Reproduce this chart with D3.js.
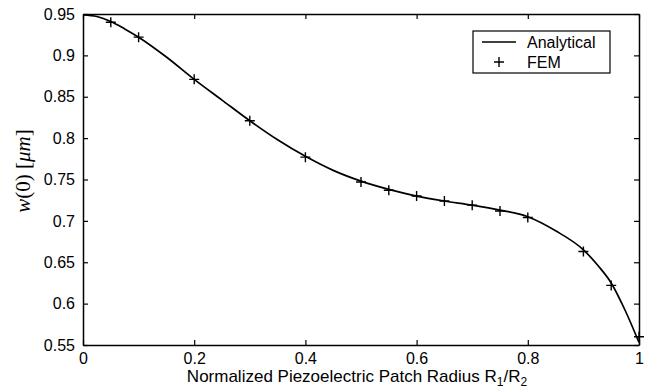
<!DOCTYPE html>
<html>
<head>
<meta charset="utf-8">
<script src="https://cdn.jsdelivr.net/npm/d3@7"></script>
<style>
  body { margin: 0; background: #fff; }
  text { font-family: "Liberation Sans", Arial, sans-serif; fill: #000; }
</style>
</head>
<body>
<div id="container"></div>
<script>
const width = 650;
const height = 390;

// plot box
const padLeft = 83, padRight = 639, padTop = 14, padBottom = 345;

// analytical curve
const anaX = [0, 0.025, 0.05, 0.075, 0.1, 0.15, 0.2, 0.25, 0.3, 0.35, 0.4, 0.45, 0.5, 0.55, 0.6, 0.65, 0.7, 0.75, 0.8, 0.85, 0.9, 0.925, 0.95, 0.975, 1.0];
const anaY = [0.949, 0.947, 0.941, 0.932, 0.922, 0.898, 0.871, 0.846, 0.821, 0.798, 0.778, 0.761, 0.748, 0.738, 0.730, 0.724, 0.719, 0.713, 0.705, 0.688, 0.665, 0.647, 0.625, 0.592, 0.553];

// FEM points
const femX = [0.05, 0.1, 0.2, 0.3, 0.4, 0.5, 0.55, 0.6, 0.65, 0.7, 0.75, 0.8, 0.9, 0.95, 1.0];
const femY = [0.940, 0.922, 0.871, 0.821, 0.777, 0.747, 0.737, 0.730, 0.724, 0.719, 0.712, 0.704, 0.663, 0.622, 0.560];

const xTicks = [0, 0.2, 0.4, 0.6, 0.8, 1];
const yTicks = [0.55, 0.6, 0.65, 0.7, 0.75, 0.8, 0.85, 0.9, 0.95];

let svg = d3.select('#container')
  .append('svg')
  .attr('width', width)
  .attr('height', height);

let x = d3.scaleLinear().domain([0, 1]).range([padLeft, padRight]);
let y = d3.scaleLinear().domain([0.55, 0.95]).range([padBottom, padTop]);

function fmt(d){
  return String(+d.toFixed(2));
}

// axes, ticks pointing inwards like matlab
svg.append('g')
  .attr('transform', 'translate(0,' + padBottom + ')')
  .call(d3.axisBottom(x).tickValues(xTicks).tickSizeInner(-5).tickSizeOuter(0).tickPadding(8).tickFormat(fmt))
  .call(g => g.selectAll('text').attr('font-size', 16).attr('font-family', '"Liberation Sans", Arial, sans-serif'));

svg.append('g')
  .attr('transform', 'translate(0,' + padTop + ')')
  .call(d3.axisTop(x).tickValues(xTicks).tickSizeInner(-5).tickSizeOuter(0).tickFormat(''));

svg.append('g')
  .attr('transform', 'translate(' + padLeft + ',0)')
  .call(d3.axisLeft(y).tickValues(yTicks).tickSizeInner(-5).tickSizeOuter(0).tickPadding(8).tickFormat(fmt))
  .call(g => g.selectAll('text').attr('font-size', 16).attr('font-family', '"Liberation Sans", Arial, sans-serif'));

svg.append('g')
  .attr('transform', 'translate(' + padRight + ',0)')
  .call(d3.axisRight(y).tickValues(yTicks).tickSizeInner(-5).tickSizeOuter(0).tickFormat(''));

svg.selectAll('.domain').attr('stroke', '#000').attr('stroke-width', 1.5);
svg.selectAll('.tick line').attr('stroke', '#000').attr('stroke-width', 1.2);

// analytical line
let anaData = anaX.map((d, i) => [d, anaY[i]]);
let line = d3.line().x(d => x(d[0])).y(d => y(d[1])).curve(d3.curveMonotoneX);

svg.append('path')
  .datum(anaData)
  .attr('d', line)
  .attr('fill', 'none')
  .attr('stroke', '#000')
  .attr('stroke-width', 1.7);

// FEM crosses
let femData = femX.map((d, i) => [d, femY[i]]);

function plusPath(s){
  return 'M' + (-s) + ',0H' + s + 'M0,' + (-s) + 'V' + s;
}

svg.selectAll('.fem').data(femData).enter()
  .append('path')
  .attr('class', 'fem')
  .attr('d', plusPath(5))
  .attr('transform', d => 'translate(' + x(d[0]) + ',' + y(d[1]) + ')')
  .attr('stroke', '#000')
  .attr('stroke-width', 1.4)
  .attr('fill', 'none');

// legend
let legend = svg.append('g');
legend.append('rect')
  .attr('x', 473).attr('y', 31)
  .attr('width', 137).attr('height', 42)
  .attr('fill', '#fff')
  .attr('stroke', '#000')
  .attr('stroke-width', 1.2);
legend.append('line')
  .attr('x1', 482).attr('x2', 516)
  .attr('y1', 42).attr('y2', 42)
  .attr('stroke', '#000').attr('stroke-width', 1.6);
legend.append('path')
  .attr('d', plusPath(5))
  .attr('transform', 'translate(499,62)')
  .attr('stroke', '#000').attr('stroke-width', 1.4);
legend.append('text')
  .attr('x', 527).attr('y', 48)
  .attr('font-size', 16)
  .text('Analytical');
legend.append('text')
  .attr('x', 527).attr('y', 68)
  .attr('font-size', 16)
  .text('FEM');

// x label with subscripts
let xl = svg.append('text')
  .attr('x', (padLeft + padRight) / 2 - 4)
  .attr('y', 382)
  .attr('text-anchor', 'middle')
  .attr('font-size', 17);
xl.append('tspan').text('Normalized Piezoelectric Patch Radius R');
xl.append('tspan').attr('font-size', 12).attr('dy', 4).text('1');
xl.append('tspan').attr('dy', -4).text('/R');
xl.append('tspan').attr('font-size', 12).attr('dy', 4).text('2');

// y label, serif math style
let yl = svg.append('text')
  .attr('transform', 'translate(30,171) rotate(-90)')
  .attr('text-anchor', 'middle')
  .attr('font-size', 21)
  .style('font-family', '"Liberation Serif", "Times New Roman", serif');
yl.append('tspan').attr('font-style', 'italic').text('w');
yl.append('tspan').text('(0) [');
yl.append('tspan').attr('font-style', 'italic').text('μm');
yl.append('tspan').text(']');
</script>
</body>
</html>
